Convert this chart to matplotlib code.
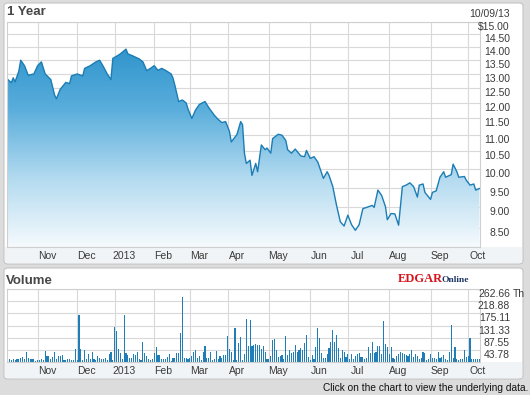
#1 year price chart with volume panel, edgar online style
import matplotlib.pyplot as plt
import numpy as np
import pandas as pd
import matplotlib.transforms as mtransforms
from matplotlib.patches import FancyBboxPatch, Rectangle
from matplotlib.colors import LinearSegmentedColormap
from matplotlib.ticker import NullLocator

plt.rcParams['font.family'] = ['Liberation Sans', 'DejaVu Sans']

# market closed days in the window (holidays + hurricane sandy)
holidays = ['2012-10-29', '2012-10-30', '2012-11-22', '2012-12-25', '2013-01-01',
            '2013-01-21', '2013-02-18', '2013-03-29', '2013-05-27', '2013-07-04',
            '2013-09-02']

# closing price (session number, price)
sessions = [0, 2, 3, 4, 6, 7, 9, 11, 12, 14, 16, 18, 20, 23, 25, 26, 28, 31, 33, 34,
            37, 40, 41, 44, 47, 49, 51, 53, 55, 56, 58, 60, 63, 64, 67, 70, 72, 74, 76, 78,
            80, 82, 84, 87, 88, 89, 91, 93, 95, 96, 98, 100, 102, 105, 107, 110, 112, 114, 116, 118,
            119, 122, 124, 125, 126, 127, 129, 130, 132, 133, 135, 137, 138, 140, 141, 144, 146, 148, 149, 151,
            153, 156, 158, 159, 161, 163, 165, 168, 170, 171, 173, 175, 177, 179, 181, 183, 185, 187, 189, 191,
            194, 195, 197, 199, 201, 202, 204, 206, 208, 210, 212, 214, 216, 218, 219, 221, 222, 225, 226, 228,
            230, 232, 233, 236, 237, 239, 240, 243, 244, 246, 248, 249, 251]
close = [12.81, 12.69, 12.86, 12.72, 13.10, 13.50, 13.30, 12.95, 12.97, 13.00, 13.30, 13.44, 13.00, 12.80, 12.27, 12.14, 12.46, 12.70, 12.66, 12.93,
         13.00, 12.93, 13.20, 13.30, 13.44, 13.50, 13.26, 13.00, 12.80, 13.57, 13.65, 13.74, 13.92, 13.74, 13.65, 13.55, 13.44, 13.12, 13.20, 13.30,
         13.13, 13.20, 13.13, 13.00, 12.85, 12.60, 12.05, 12.10, 12.00, 11.80, 11.50, 11.77, 11.95, 12.05, 11.85, 11.60, 11.47, 11.37, 11.40, 11.10,
         10.78, 11.00, 11.40, 11.30, 10.45, 10.16, 10.25, 9.83, 10.16, 9.93, 10.69, 10.55, 10.60, 10.45, 10.88, 11.01, 10.98, 10.82, 10.55, 10.45,
         10.57, 10.37, 10.35, 10.53, 10.30, 10.35, 10.20, 9.75, 9.93, 9.83, 9.53, 9.05, 8.65, 8.55, 8.81, 8.58, 8.45, 8.58, 8.97, 9.00,
         9.05, 9.00, 9.44, 9.30, 9.02, 8.70, 8.85, 8.84, 8.57, 9.53, 9.57, 9.63, 9.53, 9.26, 9.57, 9.60, 9.38, 9.20, 9.38, 9.42,
         9.78, 9.93, 9.78, 9.85, 10.14, 9.93, 9.78, 9.80, 9.70, 9.57, 9.60, 9.44, 9.48]

# daily volume in thousands, one per session
volume = [16, 11, 6, 9, 8, 11, 11, 14, 18, 11,
          37, 15, 11, 10, 11, 4, 7, 8, 11, 6,
          40, 20, 20, 11, 18, 35, 11, 20, 23, 25,
          8, 6, 9, 11, 8, 6, 47, 8, 169, 47,
          8, 43, 11, 28, 11, 35, 11, 7, 22, 13,
          11, 11, 14, 6, 30, 37, 6, 127, 112, 47,
          31, 12, 169, 31, 25, 13, 16, 29, 25, 36,
          11, 8, 73, 34, 23, 11, 8, 11, 31, 54,
          25, 25, 11,
          12, 11, 19, 28, 5, 13, 16, 31, 31, 106,
          235, 13, 16, 11, 13, 23, 37, 42, 16, 23,
          8, 35, 58, 13, 16, 37, 6, 10, 40, 11,
          23, 13, 25, 25, 94, 47, 37, 8, 124, 8,
          67, 89, 8, 28, 155, 58, 151, 58, 61, 65,
          61, 61, 46, 58, 37, 12, 11, 23, 79, 83,
          43, 18, 20, 25, 12, 94, 25, 43, 34, 37,
          61, 35, 43, 52, 43, 68, 96, 18, 8, 25,
          11, 53, 124, 85,
          31, 16, 13, 28, 52, 71, 114, 73, 97, 52,
          14, 43, 37, 19, 28, 11, 28, 11, 22, 28,
          31, 19, 19, 12, 16, 54, 31, 71, 31, 37,
          58, 58, 28, 148, 64, 55, 28, 54, 15, 11,
          23, 28, 35, 31, 29, 25, 23, 28, 43, 18,
          28, 23, 11, 16, 35, 31, 7, 11, 28, 16,
          16, 11, 35, 16, 18, 25, 11, 6, 35, 133,
          13, 53, 11, 6, 11, 9, 42, 19, 22, 88,
          11, 11, 11, 10, 12]

price_ticks = [15.0, 14.5, 14.0, 13.5, 13.0, 12.5, 12.0, 11.5, 11.0, 10.5, 10.0, 9.5, 9.0, 8.5]
price_labels = ['$15.00', '14.50', '14.00', '13.50', '13.00', '12.50', '12.00', '11.50',
                '11.00', '10.50', '10.00', '9.50', '9.00', '8.50']
vol_ticks = [262.66, 218.88, 175.11, 131.33, 87.55, 43.78]
vol_labels = ['262.66', '218.88', '175.11', '131.33', '87.55', '43.78']
month_labels = ['Nov', 'Dec', '2013', 'Feb', 'Mar', 'Apr', 'May', 'Jun', 'Jul', 'Aug', 'Sep', 'Oct']

dates = pd.bdate_range('2012-10-08', '2013-10-09', freq='C', holidays=holidays)
month_first = [i for i in range(1, len(dates)) if dates[i].month != dates[i - 1].month]

W, H = 530, 395
fig = plt.figure(figsize=(W / 100, H / 100), dpi=100)
fig.patch.set_facecolor('#dcdcdc')


def box(x, y, w, h):
    # pixel box (top-left origin) -> figure fraction rect
    return [x / W, 1 - (y + h) / H, w / W, h / H]


def panel(x, y, w, h):
    r = box(x, y, w, h)
    p = FancyBboxPatch((r[0], r[1]), r[2], r[3], boxstyle='round,pad=0,rounding_size=0.008',
                       transform=fig.transFigure, facecolor='white', edgecolor='#c4c4c4',
                       lw=0.8, zorder=-10)
    fig.patches.append(p)


def band(x, y, w, h):
    r = box(x, y, w, h)
    fig.patches.append(Rectangle((r[0], r[1]), r[2], r[3], transform=fig.transFigure,
                                 facecolor='#f1f4f7', edgecolor='none', zorder=-9))


panel(4, 3, 519, 261)
panel(4, 268, 519, 111)
band(5, 247, 517, 16)
band(5, 362, 517, 16)

xmin, xmax = -0.3, len(volume) - 0.7
ymin, ymax = 8.07, 15.0
grid_c = '#d9d9d9'
lab_c = '#3a3a3a'

# ---- price panel
ax = fig.add_axes(box(7, 22, 473, 225))
ax.set_yscale('log')
ax.set_facecolor('white')
for m in month_first:
    ax.axvline(m, color=grid_c, lw=0.8, zorder=0)
for v in price_ticks:
    ax.axhline(v, color=grid_c, lw=0.8, zorder=0)

poly = ax.fill_between(sessions, close, ymin, facecolor='none', edgecolor='none')
cmap = LinearSegmentedColormap.from_list('blu', [(0, '#f5fafd'), (0.3, '#b4dbf0'),
                                                 (0.62, '#58addb'), (1, '#1f8ac6')])
grad = np.linspace(0, 1, 256).reshape(-1, 1)
im = ax.imshow(grad, extent=[0, 1, 0, 1], transform=ax.transAxes, origin='lower',
               aspect='auto', cmap=cmap, zorder=1)
im.set_clip_path(poly.get_paths()[0], transform=ax.transData)
ax.plot(sessions, close, color='#1b7db4', lw=1.0, zorder=2)

ax.set_xlim(xmin, xmax)
ax.set_ylim(ymin, ymax)
ax.xaxis.set_major_locator(NullLocator())
ax.yaxis.set_major_locator(NullLocator())
ax.yaxis.set_minor_locator(NullLocator())
for s in ax.spines.values():
    s.set_color('#cfcfcf')
    s.set_linewidth(0.8)

ty = mtransforms.offset_copy(mtransforms.blended_transform_factory(ax.transAxes, ax.transData),
                             fig=fig, x=30, y=0, units='dots')
for v, l in zip(price_ticks, price_labels):
    ax.text(1.0, v, l, transform=ty, ha='right', va='top', fontsize=7.5, color=lab_c)

tx = mtransforms.offset_copy(mtransforms.blended_transform_factory(ax.transData, ax.transAxes),
                             fig=fig, x=0, y=-4, units='dots')
for m, l in zip(month_first, month_labels):
    ax.text(m + 5, 0, l, transform=tx, ha='center', va='top', fontsize=7.5, color=lab_c)

# ---- volume panel
vax = fig.add_axes(box(7, 289, 473, 73))
vax.set_facecolor('white')
for m in month_first:
    vax.axvline(m, color=grid_c, lw=0.8, zorder=0)
for v in vol_ticks:
    vax.axhline(v, color=grid_c, lw=0.8, zorder=0)
vax.bar(np.arange(len(volume)), volume, width=0.6, color='#1f7db8', lw=0, zorder=2,
        antialiased=False)
vax.set_xlim(xmin, xmax)
vax.set_ylim(0, 262.66)
vax.xaxis.set_major_locator(NullLocator())
vax.yaxis.set_major_locator(NullLocator())
for s in vax.spines.values():
    s.set_color('#cfcfcf')
    s.set_linewidth(0.8)

vblend = mtransforms.blended_transform_factory(vax.transAxes, vax.transData)
vty = mtransforms.offset_copy(vblend, fig=fig, x=30, y=0, units='dots')
for v, l in zip(vol_ticks, vol_labels):
    vax.text(1.0, v, l, transform=vty, ha='right', va='top', fontsize=7.5, color=lab_c)
vax.text(1.0, vol_ticks[0], 'Th', transform=mtransforms.offset_copy(vblend, fig=fig, x=33, y=0, units='dots'),
         ha='left', va='top', fontsize=7.5, color=lab_c)

vtx = mtransforms.offset_copy(mtransforms.blended_transform_factory(vax.transData, vax.transAxes),
                              fig=fig, x=0, y=-4, units='dots')
for m, l in zip(month_first, month_labels):
    vax.text(m + 5, 0, l, transform=vtx, ha='center', va='top', fontsize=7.5, color=lab_c)

# ---- header texts
fig.text(7 / W, 1 - 12 / H, '1 Year', fontsize=9.5, weight='bold', color='#474747', va='center')
fig.text(510 / W, 1 - 14 / H, '10/09/13', fontsize=7.5, color=lab_c, ha='right', va='center')
fig.text(6 / W, 1 - 281 / H, 'Volume', fontsize=9.5, weight='bold', color='#474747', va='center')
fig.text(398 / W, 1 - 279 / H, 'EDGAR', family='Liberation Serif', weight='bold', fontsize=9,
         color='#d5141c', va='center')
fig.text(442 / W, 1 - 280 / H, 'Online', family='Liberation Serif', weight='bold', fontsize=6.8,
         color='#1e3566', va='center')
fig.text(528 / W, 1 - 388 / H, 'Click on the chart to view the underlying data.', fontsize=7.3,
         color='#111111', ha='right', va='center')

fig.savefig('out.png', dpi=100, facecolor=fig.get_facecolor())
